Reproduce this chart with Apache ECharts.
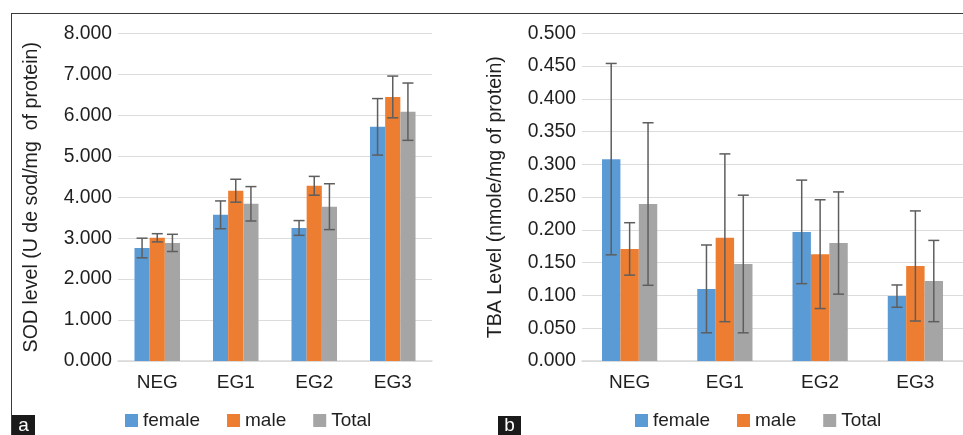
<!DOCTYPE html>
<html>
<head>
<meta charset="utf-8">
<script src="https://cdn.jsdelivr.net/npm/echarts@6/dist/echarts.min.js"></script>
<style>
html,body{margin:0;padding:0;background:#fff;}
#chart{width:963px;height:435px;}
</style>
</head>
<body>
<div id="chart"></div>
<script>
// ---- Data ----
const categories = ['NEG', 'EG1', 'EG2', 'EG3'];
const seriesNames = ['female', 'male', 'Total'];

const sodFemale = [2.76, 3.57, 3.25, 5.72];
const sodFemaleErr = [0.24, 0.34, 0.18, 0.69];
const sodMale = [3.01, 4.16, 4.28, 6.45];
const sodMaleErr = [0.10, 0.28, 0.23, 0.51];
const sodTotal = [2.885, 3.84, 3.77, 6.09];
const sodTotalErr = [0.21, 0.42, 0.56, 0.70];

const tbaFemale = [0.308, 0.110, 0.197, 0.099];
const tbaFemaleErr = [0.146, 0.067, 0.079, 0.017];
const tbaMale = [0.171, 0.188, 0.163, 0.145];
const tbaMaleErr = [0.040, 0.128, 0.083, 0.084];
const tbaTotal = [0.2395, 0.148, 0.180, 0.122];
const tbaTotalErr = [0.124, 0.105, 0.078, 0.062];

const sodTitle = 'SOD level (U de sod/mg  of protein)';
const tbaTitle = 'TBA Level (nmole/mg of protein)';

// ---- Styles ----
const colors = ['#5B9BD5', '#ED7D31', '#A5A5A5'];
const FONT = '"Liberation Sans", Arial, sans-serif';
const TXT = '#1f1f1f';
const GAP = 0.42;

const chart = echarts.init(document.getElementById('chart'), null, {renderer: 'canvas'});

function errSeries(xi, k, vals, errs) {
  return {
    type: 'custom',
    name: 'err',
    xAxisIndex: xi, yAxisIndex: xi,
    z: 5,
    silent: true,
    data: categories.map((c, i) => [i, vals[i], errs[i]]),
    encode: {x: 0, y: 1},
    renderItem: function (params, api) {
      const ci = api.value(0), v = api.value(1), e = api.value(2);
      const band = api.size([1, 0])[0];
      const bw = band * (1 - GAP) / 3;
      const off = (k - 1) * bw;
      const t = api.coord([ci, v + e]);
      const b = api.coord([ci, v - e]);
      const x = t[0] + off;
      const hw = 5.5;
      const st = {stroke: '#5e5e5e', lineWidth: 1.5};
      return {
        type: 'group',
        children: [
          {type: 'line', shape: {x1: x, y1: t[1], x2: x, y2: b[1]}, style: st},
          {type: 'line', shape: {x1: x - hw, y1: t[1], x2: x + hw, y2: t[1]}, style: st},
          {type: 'line', shape: {x1: x - hw, y1: b[1], x2: x + hw, y2: b[1]}, style: st}
        ]
      };
    }
  };
}

function barSeries(xi, k, vals) {
  return {
    type: 'bar',
    name: seriesNames[k],
    xAxisIndex: xi, yAxisIndex: xi,
    data: vals,
    barGap: '0%',
    barCategoryGap: (GAP * 100) + '%',
    itemStyle: {color: colors[k]},
    z: 2
  };
}

function xAxis(gi) {
  return {
    type: 'category', gridIndex: gi, data: categories,
    axisTick: {show: false},
    axisLine: {lineStyle: {color: '#d9d9d9', width: 1.5}},
    axisLabel: {color: TXT, fontSize: 19, fontFamily: FONT, margin: 12}
  };
}

function yAxis(gi, max, interval, name) {
  return {
    type: 'value', gridIndex: gi, min: 0, max: max, interval: interval,
    name: name, nameLocation: 'middle', nameGap: 76,
    nameTextStyle: {color: TXT, fontSize: 19.6, fontFamily: FONT},
    axisLine: {show: false}, axisTick: {show: false},
    splitLine: {lineStyle: {color: '#dcdcdc', width: 1}},
    axisLabel: {color: TXT, fontSize: 19.3, fontFamily: FONT, margin: 6,
      formatter: v => v.toFixed(3)}
  };
}

function legend(left) {
  return {
    data: seriesNames, left: left, top: 411, padding: 0,
    itemWidth: 13, itemHeight: 13, itemGap: 27, icon: 'rect',
    selectedMode: false,
    textStyle: {color: TXT, fontSize: 19, fontFamily: FONT}
  };
}

const option = {
  animation: false,
  backgroundColor: '#fff',
  grid: [
    {left: 118, width: 314, top: 33.5, height: 327.5},
    {left: 582, width: 386, top: 33.3, height: 327.7}
  ],
  xAxis: [xAxis(0), xAxis(1)],
  yAxis: [yAxis(0, 8, 1, sodTitle), yAxis(1, 0.5, 0.05, tbaTitle)],
  legend: [legend(125), legend(635)],
  series: [
    barSeries(0, 0, sodFemale), barSeries(0, 1, sodMale), barSeries(0, 2, sodTotal),
    errSeries(0, 0, sodFemale, sodFemaleErr), errSeries(0, 1, sodMale, sodMaleErr), errSeries(0, 2, sodTotal, sodTotalErr),
    barSeries(1, 0, tbaFemale), barSeries(1, 1, tbaMale), barSeries(1, 2, tbaTotal),
    errSeries(1, 0, tbaFemale, tbaFemaleErr), errSeries(1, 1, tbaMale, tbaMaleErr), errSeries(1, 2, tbaTotal, tbaTotalErr)
  ],
  graphic: [
    {type: 'line', shape: {x1: 11, y1: 13.5, x2: 963, y2: 13.5}, style: {stroke: '#3a3a3a', lineWidth: 1}},
    {type: 'line', shape: {x1: 11.5, y1: 13, x2: 11.5, y2: 435}, style: {stroke: '#3a3a3a', lineWidth: 1}},
    {type: 'rect', shape: {x: 12, y: 415, width: 23, height: 20}, style: {fill: '#1a1a1a'}},
    {type: 'text', x: 23.5, y: 425.5, style: {text: 'a', fill: '#fff', fontSize: 19, fontFamily: FONT, align: 'center', verticalAlign: 'middle'}},
    {type: 'rect', shape: {x: 498, y: 416, width: 23, height: 19}, style: {fill: '#1a1a1a'}},
    {type: 'text', x: 509.5, y: 425.5, style: {text: 'b', fill: '#fff', fontSize: 19, fontFamily: FONT, align: 'center', verticalAlign: 'middle'}}
  ]
};
chart.setOption(option);
</script>
</body>
</html>
